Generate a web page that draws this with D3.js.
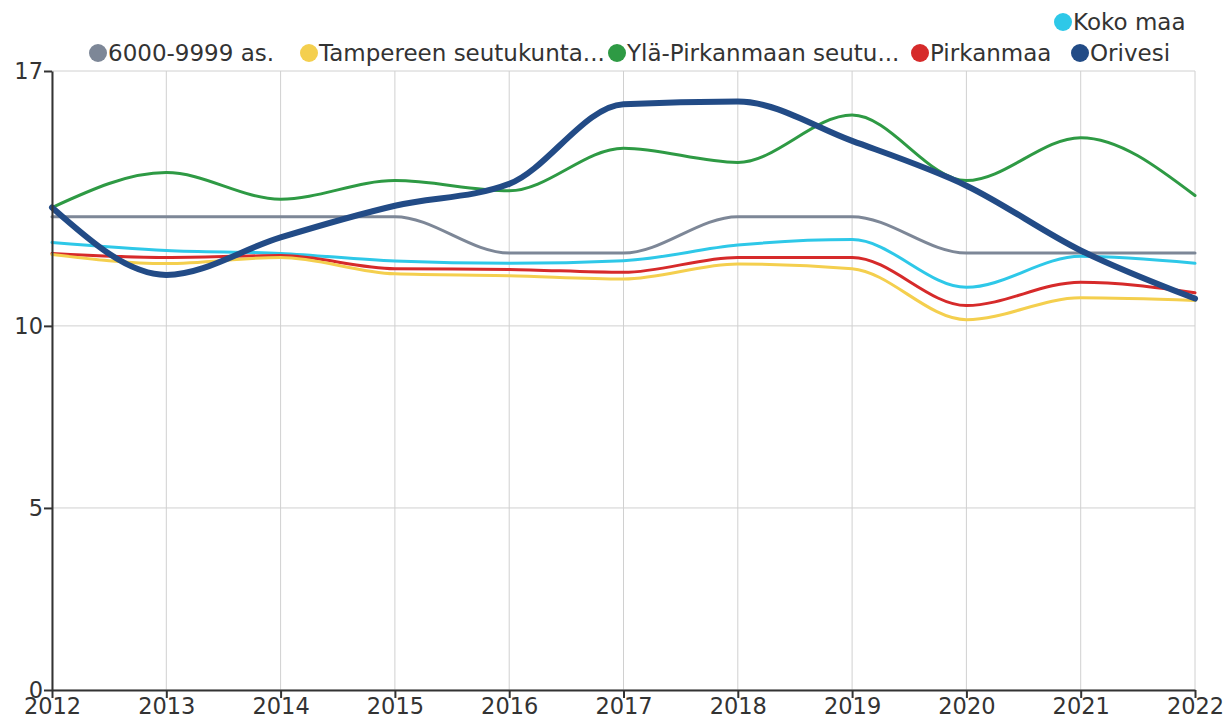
<html>
<head>
<meta charset="utf-8">
<script src="https://d3js.org/d3.v7.min.js"></script>
<style>
  body { margin: 0; background: #fff; font-family: "DejaVu Sans", sans-serif; }
  .grid line { stroke: #d0d0d0; stroke-width: 1px; }
  .axis text { font-size: 22.5px; fill: #333; font-family: "DejaVu Sans", sans-serif; }
  .axis path, .axis line { stroke: #333; stroke-width: 2px; }
  .legend text { font-size: 23px; fill: #333; }
</style>
</head>
<body>
<svg id="chart" width="1232" height="724"></svg>
<script>
const years = [2012, 2013, 2014, 2015, 2016, 2017, 2018, 2019, 2020, 2021, 2022];
const yTicks = [0, 5, 10, 17];

const seriesNames = ["6000-9999 as.", "Tampereen seutukunta...", "Ylä-Pirkanmaan seutu...", "Pirkanmaa", "Orivesi", "Koko maa"];
const seriesColors = ["#7d8797", "#f4cf4e", "#2e9a44", "#d62a2a", "#224b86", "#2ec8e8"];
const seriesWidths = [3, 3, 3, 3, 6, 3];

const size = [13, 13, 13, 13, 12, 12, 13, 13, 12, 12, 12];
const tampere = [11.96, 11.71, 11.88, 11.43, 11.38, 11.29, 11.70, 11.57, 10.17, 10.77, 10.70];
const ylaPirkanmaa = [13.25, 14.21, 13.48, 13.99, 13.71, 14.88, 14.49, 15.79, 13.99, 15.17, 13.58];
const pirkanmaa = [11.99, 11.88, 11.93, 11.57, 11.55, 11.47, 11.88, 11.88, 10.56, 11.20, 10.91];
const orivesi = [13.25, 11.40, 12.43, 13.30, 13.90, 16.09, 16.16, 15.08, 13.85, 12.07, 10.75];
const kokoMaa = [12.29, 12.07, 11.99, 11.78, 11.72, 11.79, 12.22, 12.37, 11.06, 11.91, 11.72];

// draw order: thin lines first, Orivesi on top
const drawOrder = [0, 5, 3, 1, 2, 4];
const allValues = [size, tampere, ylaPirkanmaa, pirkanmaa, orivesi, kokoMaa];

const svg = d3.select("#chart");
const margin = { top: 71, right: 37, bottom: 34, left: 52 };
const width = +svg.attr("width") - margin.left - margin.right;
const height = +svg.attr("height") - margin.top - margin.bottom;

const x = d3.scaleLinear().domain([2012, 2022]).range([0, width]);
const y = d3.scaleLinear().domain([0, 17]).range([height, 0]);

const g = svg.append("g").attr("transform", "translate(" + margin.left + "," + margin.top + ")");

// grid
const grid = g.append("g").attr("class", "grid");
grid.selectAll("line.v").data(years).join("line")
    .attr("class", "v")
    .attr("x1", d => x(d)).attr("x2", d => x(d))
    .attr("y1", 0).attr("y2", height);
grid.selectAll("line.h").data(yTicks).join("line")
    .attr("class", "h")
    .attr("x1", 0).attr("x2", width)
    .attr("y1", d => y(d)).attr("y2", d => y(d));

// lines
const line = d3.line()
    .x((d, i) => x(years[i]))
    .y(d => y(d))
    .curve(d3.curveMonotoneX);

g.selectAll("path.series").data(drawOrder).join("path")
    .attr("class", "series")
    .attr("fill", "none")
    .attr("stroke", i => seriesColors[i])
    .attr("stroke-width", i => seriesWidths[i])
    .attr("stroke-linejoin", "round")
    .attr("stroke-linecap", "round")
    .attr("d", i => line(allValues[i]));

// axes
g.append("g").attr("class", "axis")
    .attr("transform", "translate(0," + height + ")")
    .call(d3.axisBottom(x).tickValues(years).tickFormat(d3.format("d")).tickSize(8).tickSizeOuter(0))
    .call(a => a.selectAll("text").attr("dy", "0.85em").attr("y", 5));

g.append("g").attr("class", "axis")
    .call(d3.axisLeft(y).tickValues(yTicks).tickSize(8).tickSizeOuter(0))
    .call(a => a.selectAll("text").attr("x", -9));

// legend: two rows, Koko maa wraps to the top row
const legendDotX = [98, 309, 617, 920, 1080, 1063];
const legendRowY = [53, 53, 53, 53, 53, 22];
const legend = svg.append("g").attr("class", "legend");
const items = legend.selectAll("g").data(d3.range(seriesNames.length)).join("g");
items.append("circle")
    .attr("cx", i => legendDotX[i]).attr("cy", i => legendRowY[i])
    .attr("r", 9).attr("fill", i => seriesColors[i]);
items.append("text")
    .attr("x", i => legendDotX[i] + 10).attr("y", i => legendRowY[i] + 8)
    .text(i => seriesNames[i]);
</script>
</body>
</html>
